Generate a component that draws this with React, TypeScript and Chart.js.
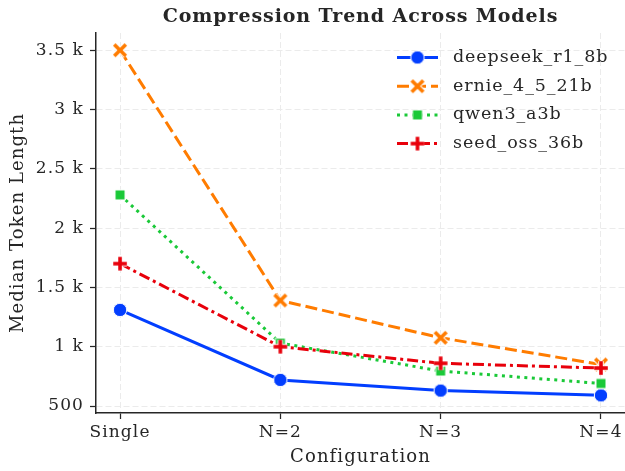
import React, { useEffect, useRef } from 'react';
import { Chart, registerables } from 'chart.js';

Chart.register(...registerables);

const categories = ['Single', 'N=2', 'N=3', 'N=4'];
const seriesNames = ['deepseek_r1_8b', 'ernie_4_5_21b', 'qwen3_a3b', 'seed_oss_36b'];
const deepseek = [1310, 720, 630, 590];
const ernie = [3500, 1390, 1075, 850];
const qwen = [2280, 1030, 795, 690];
const seed = [1700, 1000, 860, 820];
const yTicks = [500, 1000, 1500, 2000, 2500, 3000, 3500];

const colors = ['#023eff', '#ff7c00', '#1ac938', '#e8000b'];
const dashes = [[], [12, 5], [3, 4.5], [11, 4, 3, 4]];
const markerKinds = ['circle', 'x', 'square', 'plus'];
const FONT = "'DejaVu Serif', serif";
const TEXT = '#262626';

function makeMarker(kind: string, color: string): HTMLCanvasElement {
  const c = document.createElement('canvas');
  c.width = 20;
  c.height = 20;
  const ctx = c.getContext('2d')!;
  ctx.translate(10, 10);
  if (kind === 'circle') {
    ctx.beginPath();
    ctx.arc(0, 0, 6.7, 0, Math.PI * 2);
    ctx.fillStyle = color;
    ctx.fill();
    ctx.lineWidth = 1;
    ctx.strokeStyle = '#fff';
    ctx.stroke();
  } else if (kind === 'square') {
    ctx.fillStyle = color;
    ctx.fillRect(-5, -5, 10, 10);
    ctx.lineWidth = 1;
    ctx.strokeStyle = '#fff';
    ctx.strokeRect(-5, -5, 10, 10);
  } else {
    const r = 5.8;
    const segs =
      kind === 'x'
        ? [[-r, -r, r, r], [-r, r, r, -r]]
        : [[-r - 1, 0, r + 1, 0], [0, -r - 1, 0, r + 1]];
    for (const [w, col] of [[5.5, '#fff'], [3.6, color]] as [number, string][]) {
      ctx.lineWidth = w;
      ctx.strokeStyle = col;
      ctx.lineCap = 'butt';
      for (const s of segs) {
        ctx.beginPath();
        ctx.moveTo(s[0], s[1]);
        ctx.lineTo(s[2], s[3]);
        ctx.stroke();
      }
    }
  }
  return c;
}

export default function App() {
  const ref = useRef<HTMLCanvasElement>(null);

  useEffect(() => {
    const markers = markerKinds.map((k, i) => makeMarker(k, colors[i]));
    const values = [deepseek, ernie, qwen, seed];

    const spacingPlugin = {
      id: 'letterSpacing',
      beforeUpdate(chart: any) {
        chart.ctx.letterSpacing = '1.1px';
      },
      beforeLayout(chart: any) {
        chart.ctx.letterSpacing = '1.1px';
      },
      beforeDraw(chart: any) {
        chart.ctx.letterSpacing = '1.1px';
      },
    };

    const titlePlugin = {
      id: 'customTitle',
      afterDraw(chart: any) {
        const { ctx, chartArea } = chart;
        ctx.save();
        ctx.letterSpacing = '0.9px';
        ctx.font = `bold 19px ${FONT}`;
        ctx.fillStyle = TEXT;
        ctx.textAlign = 'center';
        ctx.textBaseline = 'middle';
        ctx.fillText('Compression Trend Across Models', (chartArea.left + chartArea.right) / 2, 17);
        ctx.restore();
      },
    };

    const legendPlugin = {
      id: 'customLegend',
      afterDraw(chart: any) {
        const { ctx } = chart;
        ctx.save();
        seriesNames.forEach((name, i) => {
          const y = 57.5 + i * 28.7;
          ctx.beginPath();
          ctx.setLineDash(dashes[i]);
          ctx.lineWidth = 3;
          ctx.strokeStyle = colors[i];
          ctx.moveTo(397, y);
          ctx.lineTo(438, y);
          ctx.stroke();
          ctx.setLineDash([]);
          const m = markers[i];
          ctx.drawImage(m, 417.5 - m.width / 2, y - m.height / 2);
          ctx.letterSpacing = '0.9px';
          ctx.font = `17.5px ${FONT}`;
          ctx.fillStyle = TEXT;
          ctx.textAlign = 'left';
          ctx.textBaseline = 'middle';
          ctx.fillText(name, 453, y);
        });
        ctx.restore();
      },
    };

    const chart = new Chart(ref.current!, {
      type: 'line',
      data: {
        datasets: values.map((vals, i) => ({
          label: seriesNames[i],
          data: vals.map((v, j) => ({ x: j, y: v })),
          borderColor: colors[i],
          backgroundColor: colors[i],
          borderWidth: 3,
          borderDash: dashes[i],
          borderCapStyle: 'butt',
          pointStyle: markers[i],
          pointRadius: 6,
          tension: 0,
          fill: false,
          order: 3 - i,
        })),
      },
      options: {
        responsive: false,
        animation: false,
        devicePixelRatio: 1,
        layout: { autoPadding: false, padding: { top: 33, right: 0, left: 0, bottom: 0 } },
        plugins: {
          legend: { display: false },
          title: { display: false },
          tooltip: { enabled: false },
        },
        scales: {
          x: {
            type: 'linear',
            min: -0.15,
            max: 3.15,
            afterBuildTicks: (s: any) => {
              s.ticks = categories.map((_, i) => ({ value: i }));
            },
            afterFit: (s: any) => {
              s.height = 58;
              s.paddingLeft = 0;
              s.paddingRight = 0;
            },
            ticks: {
              callback: (v: any) => categories[v] ?? '',
              font: { family: FONT, size: 17 },
              color: TEXT,
              padding: 3,
              maxRotation: 0,
              autoSkip: false,
            },
            grid: {
              color: '#ebebeb',
              lineWidth: 1,
              tickColor: TEXT,
              tickLength: 6,
              tickWidth: 1.25,
            },
            border: { color: TEXT, width: 1.5, dash: [6, 3] },
            title: {
              display: true,
              text: 'Configuration',
              font: { family: FONT, size: 18 },
              color: TEXT,
              padding: { top: 0, bottom: 3 },
            },
          },
          y: {
            type: 'linear',
            min: 441,
            max: 3645,
            afterBuildTicks: (s: any) => {
              s.ticks = yTicks.map((v) => ({ value: v }));
            },
            afterFit: (s: any) => {
              s.width = 96;
              s.paddingTop = 0;
              s.paddingBottom = 0;
            },
            ticks: {
              callback: (v: any) => (v === 500 ? '500' : `${v / 1000} k`),
              font: { family: FONT, size: 17 },
              color: TEXT,
              padding: 6,
            },
            grid: {
              color: '#ebebeb',
              lineWidth: 1,
              tickColor: TEXT,
              tickLength: 6,
              tickWidth: 1.25,
            },
            border: { color: TEXT, width: 1.5, dash: [6, 3] },
            title: {
              display: true,
              text: 'Median Token Length',
              font: { family: FONT, size: 18 },
              color: TEXT,
              padding: { top: 8, bottom: 0 },
            },
          },
        },
      } as any,
      plugins: [spacingPlugin, titlePlugin, legendPlugin],
    });
    return () => chart.destroy();
  }, []);

  return (
    <div style={{ position: 'fixed', left: 0, top: 0, width: 625, height: 471, background: '#fff' }}>
      <canvas ref={ref} width={625} height={471} />
    </div>
  );
}
